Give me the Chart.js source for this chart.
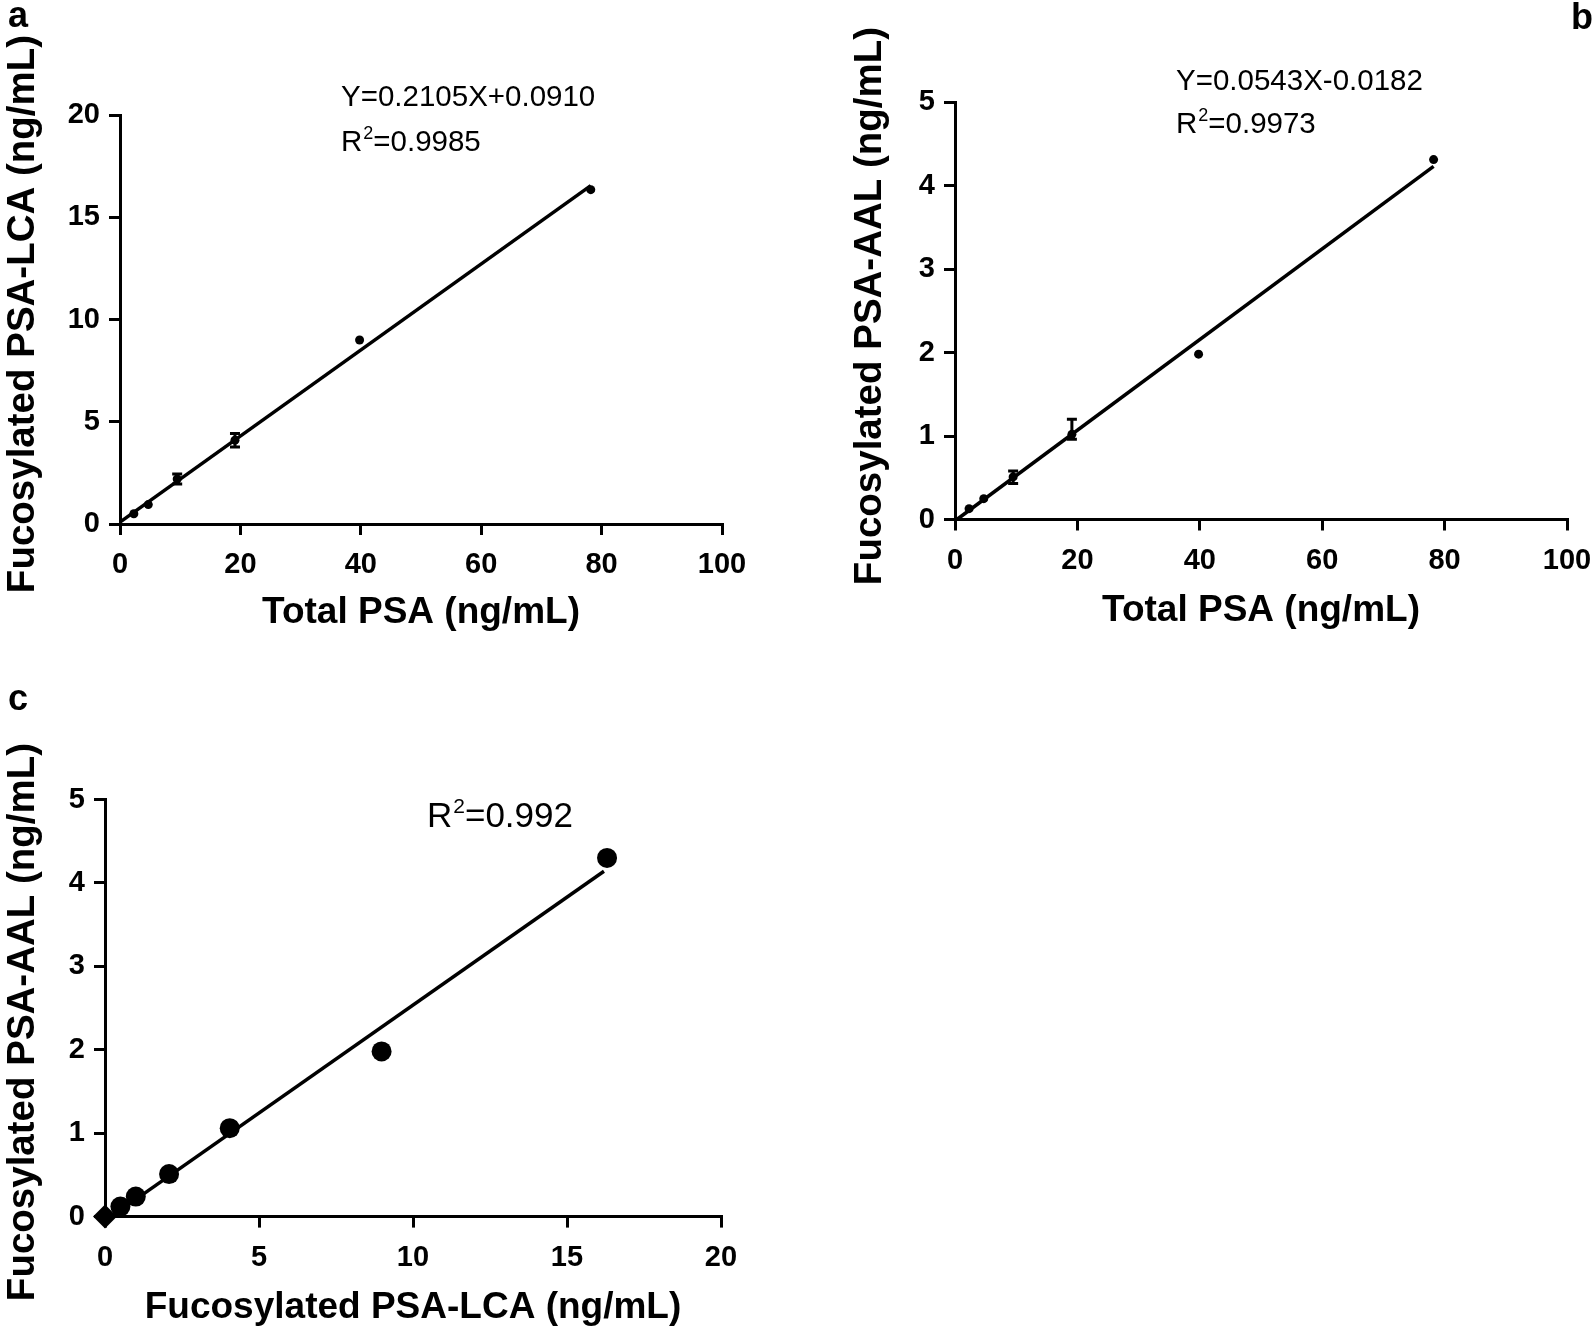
<!DOCTYPE html>
<html><head><meta charset="utf-8">
<script src="https://cdn.jsdelivr.net/npm/chart.js@4.4.1/dist/chart.umd.min.js"></script>
<style>
html,body{margin:0;padding:0;background:#fff;width:1595px;height:1332px;overflow:hidden}
canvas{position:absolute}
</style></head><body>
<canvas id="ca" width="752" height="650" style="left:0;top:0"></canvas>
<canvas id="cb" width="765" height="650" style="left:830px;top:0"></canvas>
<canvas id="cc" width="751" height="652" style="left:0;top:680px"></canvas>
<script>
// ---- data ----
const totalPSA      = [2.3, 4.7, 9.5, 19.1, 39.8, 78.2];
const lcaValues     = [0.5, 0.95, 2.2, 4.1, 9.0, 16.35];
const lcaErrPlus    = [0, 0, 0.25, 0.33, 0, 0];
const lcaErrMinus   = [0, 0, 0.25, 0.33, 0, 0];
const aalValues     = [0.13, 0.25, 0.51, 1.02, 1.98, 4.31];
const aalErrPlus    = [0, 0, 0.07, 0.18, 0, 0];
const aalErrMinus   = [0, 0, 0.08, 0.06, 0, 0];
const corrLCA       = [0.5, 1.0, 2.08, 4.05, 8.98, 16.3];
const corrAAL       = [0.12, 0.24, 0.51, 1.06, 1.98, 4.30];
const corrOriginX   = [0];
const corrOriginY   = [0];
const fitA_x = [0, 78.2],  fitA_y = [0.09, 16.55];
const fitB_x = [0.3, 78.2], fitB_y = [0, 4.23];
const fitC_x = [0.2, 16.2], fitC_y = [0, 4.14];
const ticksA_x = [0, 20, 40, 60, 80, 100], ticksA_y = [0, 5, 10, 15, 20];
const ticksB_y = [0, 1, 2, 3, 4, 5];
const ticksC_x = [0, 5, 10, 15, 20];

const FONT = 'Arial, "Liberation Sans", sans-serif';

function pts(xs, ys){ return xs.map((v,i)=>({x:v, y:ys[i]})); }

const errorBars = {
  id: 'errorBars',
  afterDatasetsDraw(chart) {
    const {ctx, scales:{x, y}} = chart;
    chart.data.datasets.forEach(ds => {
      if (!ds.errPlus) return;
      ctx.save(); ctx.strokeStyle = '#000'; ctx.lineWidth = 3;
      ds.data.forEach((p, j) => {
        const up = ds.errPlus[j], dn = ds.errMinus[j];
        if (!up && !dn) return;
        const px = x.getPixelForValue(p.x);
        const y1 = y.getPixelForValue(p.y + up), y2 = y.getPixelForValue(p.y - dn);
        ctx.beginPath();
        ctx.moveTo(px, y1); ctx.lineTo(px, y2);
        ctx.moveTo(px-5, y1); ctx.lineTo(px+5, y1);
        ctx.moveTo(px-5, y2); ctx.lineTo(px+5, y2);
        ctx.stroke();
      });
      ctx.restore();
    });
  }
};

function textPlugin(cfg) {
  return {
    id: 'txt' + cfg.label,
    afterDraw(chart) {
      const ctx = chart.ctx;
      ctx.save();
      ctx.fillStyle = '#000';
      ctx.textAlign = 'left';
      ctx.textBaseline = 'alphabetic';
      ctx.font = 'bold 36px ' + FONT;
      ctx.fillText(cfg.label, cfg.lx, cfg.ly);
      const fs = cfg.size, ss = Math.round(fs * 0.6);
      cfg.lines.forEach(line => {
        let x = line.x;
        line.segs.forEach(s => {
          if (s.sup) {
            ctx.font = ss + 'px ' + FONT;
            ctx.fillText(s.t, x + 1, line.y - fs * 0.4);
            x += ctx.measureText(s.t).width + 1;
          } else {
            ctx.font = fs + 'px ' + FONT;
            ctx.fillText(s.t, x, line.y);
            x += ctx.measureText(s.t).width;
          }
        });
      });
      // rotated y-axis title
      const t = cfg.yTitle;
      ctx.translate(t.x, t.y);
      ctx.rotate(-Math.PI / 2);
      ctx.textAlign = 'center';
      ctx.textBaseline = 'middle';
      ctx.font = 'bold ' + t.size + 'px ' + FONT;
      ctx.fillText(t.text, 0, 0);
      ctx.restore();
    }
  };
}

function axisCommon() {
  return {
    border: {display: true, color: '#000', width: 3},
    grid: {display: true, drawOnChartArea: false, drawTicks: true, tickLength: 11,
           tickWidth: 3, tickColor: '#000', color: '#000', lineWidth: 3}
  };
}

function scales(o) {
  const tickFont = {family: FONT, size: 29, weight: 'bold'};
  return {
    x: Object.assign(axisCommon(), {
      type: 'linear', min: o.xTicks[0], max: o.xTicks[o.xTicks.length-1],
      afterBuildTicks(s){ s.ticks = o.xTicks.map(v => ({value: v})); },
      ticks: {color: '#000', font: tickFont, padding: 13, maxRotation: 0, autoSkip: false},
      title: {display: true, text: o.xTitle, color: '#000',
              font: {family: FONT, size: o.xTitleSize, weight: 'bold'}, padding: {top: 0, bottom: o.xTitlePad}},
      afterFit(s){ s.height = o.xH; s.paddingLeft = 0; s.paddingRight = 0; }
    }),
    y: Object.assign(axisCommon(), {
      type: 'linear', min: o.yTicks[0], max: o.yTicks[o.yTicks.length-1],
      afterBuildTicks(s){ s.ticks = o.yTicks.map(v => ({value: v})); },
      ticks: {color: '#000', font: tickFont, padding: 9, autoSkip: false},
      title: {display: false},
      afterFit(s){ s.width = o.yW; s.paddingTop = 0; s.paddingBottom = 0; }
    })
  };
}

function makeChart(id, datasets, sc, pad, txt) {
  return new Chart(document.getElementById(id), {
    type: 'scatter',
    data: {datasets},
    options: {
      responsive: false, animation: false,
      layout: {padding: pad},
      plugins: {legend: {display: false}, tooltip: {enabled: false}},
      scales: sc
    },
    plugins: [errorBars, textPlugin(txt)]
  });
}

function fitDs(xs, ys) {
  return {data: pts(xs, ys), showLine: true, borderColor: '#000', borderWidth: 3.5,
          pointRadius: 0, clip: false};
}
function dotDs(xs, ys, r, extra) {
  return Object.assign({data: pts(xs, ys), backgroundColor: '#000', borderColor: '#000',
          pointRadius: r, pointBorderWidth: 0, clip: false}, extra || {});
}

// Panel a
makeChart('ca', [
  fitDs(fitA_x, fitA_y),
  dotDs(totalPSA, lcaValues, 4.5, {errPlus: lcaErrPlus, errMinus: lcaErrMinus})
], scales({xTicks: ticksA_x, yTicks: ticksA_y, xTitle: 'Total PSA (ng/mL)',
  xTitleSize: 37, xTitlePad: 15, xH: 126, yW: 120}),
  {left: 0, top: 115, right: 30, bottom: 0},
  {label: 'a', lx: 8, ly: 27, size: 29.5,
   yTitle: {text: 'Fucosylated PSA-LCA (ng/mL)', x: 23, y: 314, size: 38.5},
   lines: [
    {x: 341, y: 106, segs: [{t: 'Y=0.2105X+0.0910'}]},
    {x: 341, y: 151, segs: [{t: 'R'}, {t: '2', sup: true}, {t: '=0.9985'}]}
  ]});

// Panel b
makeChart('cb', [
  fitDs(fitB_x, fitB_y),
  dotDs(totalPSA, aalValues, 4.5, {errPlus: aalErrPlus, errMinus: aalErrMinus})
], scales({xTicks: ticksA_x, yTicks: ticksB_y, xTitle: 'Total PSA (ng/mL)',
  xTitleSize: 37, xTitlePad: 17, xH: 130.5, yW: 125}),
  {left: 0, top: 102, right: 28, bottom: 0},
  {label: 'b', lx: 741, ly: 29, size: 29.5,
   yTitle: {text: 'Fucosylated PSA-AAL (ng/mL)', x: 40, y: 306, size: 38.5},
   lines: [
    {x: 346, y: 90, segs: [{t: 'Y=0.0543X-0.0182'}]},
    {x: 346, y: 133, segs: [{t: 'R'}, {t: '2', sup: true}, {t: '=0.9973'}]}
  ]});

// Panel c
makeChart('cc', [
  fitDs(fitC_x, fitC_y),
  dotDs(corrLCA, corrAAL, 10),
  dotDs(corrOriginX, corrOriginY, 12, {pointStyle: 'rectRot'})
], scales({xTicks: ticksC_x, yTicks: ticksB_y, xTitle: 'Fucosylated PSA-LCA (ng/mL)',
  xTitleSize: 37, xTitlePad: 2, xH: 115.4, yW: 105}),
  {left: 0, top: 119.5, right: 30, bottom: 0},
  {label: 'c', lx: 8, ly: 30, size: 35,
   yTitle: {text: 'Fucosylated PSA-AAL (ng/mL)', x: 23, y: 342, size: 38.5},
   lines: [
    {x: 427, y: 147, segs: [{t: 'R'}, {t: '2', sup: true}, {t: '=0.992'}]}
  ]});
</script>
</body></html>
